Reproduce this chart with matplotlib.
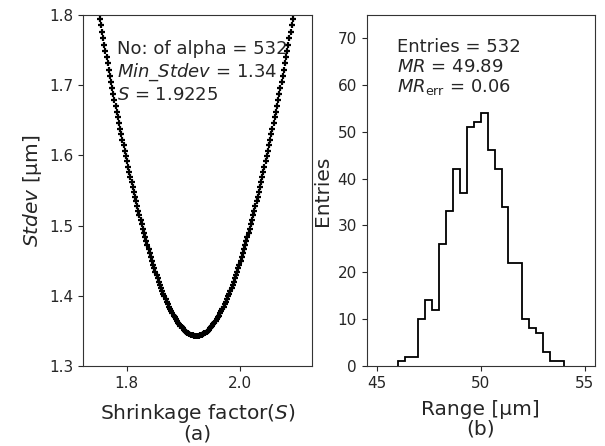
import numpy as np
import matplotlib
matplotlib.use("Agg")
import matplotlib.pyplot as plt

# ---------------- data: panel (a) ----------------
shrink_left = [
    1.7465, 1.7485, 1.7505, 1.7525, 1.7545, 1.7565, 1.7585, 1.7605, 1.7625, 1.7645,
    1.7665, 1.7685, 1.7705, 1.7725, 1.7745, 1.7765, 1.7785, 1.7805, 1.7825, 1.7845,
    1.7865, 1.7885, 1.7905, 1.7925, 1.7945, 1.7965, 1.7985, 1.8005, 1.8025, 1.8045,
    1.8065, 1.8085, 1.8105, 1.8125, 1.8145, 1.8165, 1.8185, 1.8205, 1.8225, 1.8245,
    1.8265, 1.8285, 1.8305, 1.8325, 1.8345, 1.8365, 1.8385, 1.8405, 1.8425, 1.8445,
    1.8465, 1.8485, 1.8505, 1.8525, 1.8545, 1.8565, 1.8585, 1.8605, 1.8625, 1.8645,
    1.8665, 1.8685, 1.8705, 1.8725, 1.8745, 1.8765, 1.8785, 1.8805, 1.8825, 1.8845,
    1.8865, 1.8885, 1.8905, 1.8925, 1.8945, 1.8965, 1.8985, 1.9005, 1.9025, 1.9045,
    1.9065, 1.9085, 1.9105, 1.9125, 1.9145, 1.9165, 1.9185, 1.9205, 1.9225,
]
stdev_left = [
    1.8225, 1.8131, 1.8037, 1.7944, 1.7851, 1.7759, 1.7668, 1.7577, 1.7487, 1.7398,
    1.7309, 1.7221, 1.7134, 1.7047, 1.6962, 1.6876, 1.6792, 1.6708, 1.6625, 1.6543,
    1.6462, 1.6381, 1.6302, 1.6223, 1.6145, 1.6067, 1.5991, 1.5915, 1.5841, 1.5767,
    1.5694, 1.5622, 1.5551, 1.5481, 1.5412, 1.5344, 1.5276, 1.5210, 1.5145, 1.5081,
    1.5017, 1.4955, 1.4894, 1.4834, 1.4775, 1.4718, 1.4661, 1.4605, 1.4551, 1.4497,
    1.4445, 1.4394, 1.4345, 1.4296, 1.4249, 1.4202, 1.4158, 1.4114, 1.4071, 1.4030,
    1.3990, 1.3952, 1.3915, 1.3879, 1.3844, 1.3811, 1.3779, 1.3748, 1.3719, 1.3691,
    1.3664, 1.3639, 1.3615, 1.3593, 1.3572, 1.3553, 1.3535, 1.3518, 1.3503, 1.3489,
    1.3477, 1.3466, 1.3456, 1.3448, 1.3442, 1.3437, 1.3433, 1.3431, 1.3430,
]
shrink_right = [
    1.9245, 1.9265, 1.9285, 1.9305, 1.9325, 1.9345, 1.9365, 1.9385, 1.9405, 1.9425,
    1.9445, 1.9465, 1.9485, 1.9505, 1.9525, 1.9545, 1.9565, 1.9585, 1.9605, 1.9625,
    1.9645, 1.9665, 1.9685, 1.9705, 1.9725, 1.9745, 1.9765, 1.9785, 1.9805, 1.9825,
    1.9845, 1.9865, 1.9885, 1.9905, 1.9925, 1.9945, 1.9965, 1.9985, 2.0005, 2.0025,
    2.0045, 2.0065, 2.0085, 2.0105, 2.0125, 2.0145, 2.0165, 2.0185, 2.0205, 2.0225,
    2.0245, 2.0265, 2.0285, 2.0305, 2.0325, 2.0345, 2.0365, 2.0385, 2.0405, 2.0425,
    2.0445, 2.0465, 2.0485, 2.0505, 2.0525, 2.0545, 2.0565, 2.0585, 2.0605, 2.0625,
    2.0645, 2.0665, 2.0685, 2.0705, 2.0725, 2.0745, 2.0765, 2.0785, 2.0805, 2.0825,
    2.0845, 2.0865, 2.0885, 2.0905, 2.0925, 2.0945, 2.0965, 2.0985,
]
stdev_right = [
    1.3431, 1.3433, 1.3437, 1.3442, 1.3448, 1.3456, 1.3466, 1.3477, 1.3489, 1.3503,
    1.3518, 1.3535, 1.3553, 1.3572, 1.3593, 1.3615, 1.3639, 1.3664, 1.3691, 1.3719,
    1.3748, 1.3779, 1.3811, 1.3844, 1.3879, 1.3915, 1.3952, 1.3990, 1.4030, 1.4071,
    1.4114, 1.4158, 1.4202, 1.4249, 1.4296, 1.4345, 1.4394, 1.4445, 1.4497, 1.4551,
    1.4605, 1.4661, 1.4718, 1.4775, 1.4834, 1.4894, 1.4955, 1.5017, 1.5081, 1.5145,
    1.5210, 1.5276, 1.5344, 1.5412, 1.5481, 1.5551, 1.5622, 1.5694, 1.5767, 1.5841,
    1.5915, 1.5991, 1.6067, 1.6145, 1.6223, 1.6302, 1.6381, 1.6462, 1.6543, 1.6625,
    1.6708, 1.6792, 1.6876, 1.6962, 1.7047, 1.7134, 1.7221, 1.7309, 1.7398, 1.7487,
    1.7577, 1.7668, 1.7759, 1.7851, 1.7944, 1.8037, 1.8131, 1.8225,
]
n_alpha = 532
min_stdev = 1.34
best_s = 1.9225

# ---------------- data: panel (b) ----------------
range_lo, range_hi = 46.0, 54.0
range_counts = [1, 2, 2, 10, 14, 12, 26, 33, 42, 37, 51, 52,
                54, 46, 42, 34, 22, 22, 10, 8, 7, 3, 1, 1]
mean_range = 49.89
mean_range_err = 0.06

# ---------------- plotting ----------------
txt = '#262626'
plt.rcParams['font.family'] = ['DejaVu Sans']
plt.rcParams['text.color'] = txt
plt.rcParams['axes.labelcolor'] = txt
plt.rcParams['xtick.color'] = txt
plt.rcParams['ytick.color'] = txt
plt.rcParams['axes.edgecolor'] = '#333333'

fig, (ax1, ax2) = plt.subplots(1, 2, figsize=(6.05, 4.46), dpi=100)
fig.subplots_adjust(left=0.1377, right=0.9835, top=0.9664, bottom=0.1794, wspace=0.24)

S = shrink_left + shrink_right
Y = stdev_left + stdev_right
ax1.plot(S, Y, linestyle='none', marker='+', color='black', markersize=5, markeredgewidth=1.6)
ax1.set_xlim(1.7236, 2.1257)
ax1.set_ylim(1.3, 1.8)
ax1.set_xticks([1.8, 2.0])
ax1.set_yticks([1.3, 1.4, 1.5, 1.6, 1.7, 1.8])
ax1.tick_params(labelsize=11)
ax1.set_xlabel('Shrinkage factor($S$)\n(a)', fontsize=14.5, linespacing=1.0, labelpad=8)
ax1.set_ylabel('$Stdev$ [μm]', fontsize=14.5)
ax1.text(0.146, 0.928,
         f'No: of alpha = {n_alpha}\n$Min\\_Stdev$ = {min_stdev:.2f}\n$S$ = {best_s}',
         transform=ax1.transAxes, va='top', ha='left', fontsize=13)

edges = np.linspace(range_lo, range_hi, len(range_counts) + 1)
ax2.stairs(range_counts, edges, color='black', linewidth=1.3, baseline=0)
ax2.set_xlim(44.5, 55.5)
ax2.set_ylim(0, 74.9)
ax2.set_xticks([45, 50, 55])
ax2.set_yticks([0, 10, 20, 30, 40, 50, 60, 70])
ax2.tick_params(labelsize=11)
ax2.set_xlabel('Range [μm]\n(b)', fontsize=14.5, linespacing=1.0, labelpad=7)
ax2.set_ylabel('Entries', fontsize=14.5)
ax2.text(0.131, 0.934,
         f'Entries = {sum(range_counts)}\n$MR$ = {mean_range:.2f}\n$MR_{{\\rm err}}$ = {mean_range_err:.2f}',
         transform=ax2.transAxes, va='top', ha='left', fontsize=13, linespacing=1.1)

fig.savefig('out.png', dpi=100)
